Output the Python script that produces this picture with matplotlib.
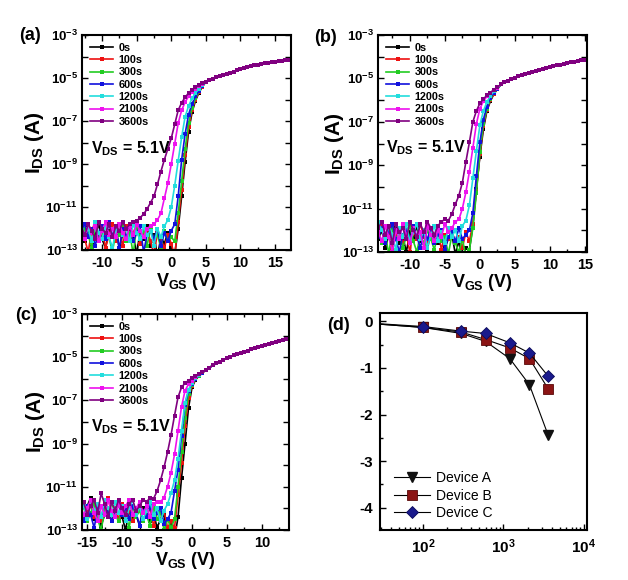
import numpy as np
import matplotlib
matplotlib.use('Agg')
import matplotlib.pyplot as plt
from matplotlib.ticker import (FixedLocator, MultipleLocator, FuncFormatter,
                               NullLocator, LogLocator, NullFormatter)

plt.rcParams['font.family'] = ['Liberation Sans', 'DejaVu Sans']
plt.rcParams['font.weight'] = 'bold'
plt.rcParams['mathtext.fontset'] = 'custom'
plt.rcParams['mathtext.rm'] = 'Liberation Sans'
plt.rcParams['mathtext.bf'] = 'Liberation Sans:bold'
plt.rcParams['mathtext.it'] = 'Liberation Sans:italic'
plt.rcParams['mathtext.default'] = 'bf'
plt.rcParams['axes.unicode_minus'] = False
plt.rcParams['axes.linewidth'] = 1.5

# ---------------- data ----------------
times = ['0s', '100s', '300s', '600s', '1200s', '2100s', '3600s']
colors = ['#000000', '#ee1111', '#22cc22', '#1111dd', '#22dddd', '#ee11ee', '#800080']

# panel (a): log10(I_DS); sub-threshold part VGS = -13 .. 4.5 (step 0.5), common on-state part VGS = 5 .. 17.5
vgs_a_sub = np.arange(-13.0, 4.75, 0.5)
vgs_a_on = np.arange(5.0, 17.75, 0.5)
a_on = [-5.17, -5.1, -5.03, -4.97, -4.91, -4.86, -4.8, -4.75, -4.7, -4.65, -4.58, -4.53, -4.49,
        -4.45, -4.41, -4.38, -4.35, -4.32, -4.29, -4.26, -4.24, -4.21, -4.19, -4.16, -4.14, -4.12]
a_0s = [-12.2, -12.6, -11.9, -13.1, -12.3, -11.8, -12.5, -12.9, -12.1, -12.4, -11.9, -13.0, -12.2, -12.6,
        -12.0, -12.3, -13.2, -12.1, -12.5, -11.9, -12.8, -12.3, -13.3, -12.4, -12.7, -12.2, -12.9,
        -13.2, -12.0, -10.5, -8.9, -7.5, -6.6, -6.05, -5.68, -5.4]
a_100s = [-11.9, -12.5, -13.1, -12.1, -11.7, -12.4, -12.0, -12.9, -12.3, -11.8, -12.6, -12.1, -12.8, -11.9,
          -12.4, -12.2, -11.8, -12.7, -12.3, -12.0, -12.6, -13.2, -12.2, -12.5, -12.9, -12.3, -12.7,
          -13.3, -11.7, -10.2, -8.6, -7.3, -6.5, -6.0, -5.65, -5.4]
a_300s = [-12.6, -12.0, -12.3, -12.9, -11.9, -12.5, -12.2, -11.7, -12.4, -13.1, -12.1, -12.3, -11.8, -12.6,
          -12.2, -13.2, -11.9, -12.4, -12.1, -12.8, -12.0, -12.5, -12.3, -12.9, -12.1, -12.6, -12.4,
          -12.6, -11.3, -9.8, -8.3, -7.1, -6.4, -5.95, -5.62, -5.38]
a_600s = [-12.1, -11.8, -12.4, -12.0, -12.8, -12.2, -11.9, -12.5, -11.7, -12.3, -12.1, -12.9, -12.0, -12.4,
          -11.8, -12.6, -12.2, -11.9, -13.1, -12.3, -12.1, -12.5, -12.0, -12.8, -12.2, -12.6, -12.1, -11.8,
          -10.5, -8.8, -7.6, -6.7, -6.2, -5.85, -5.6, -5.38]
a_1200s = [-11.8, -12.3, -12.0, -12.6, -11.7, -12.2, -12.5, -11.9, -12.4, -12.9, -12.1, -11.8, -12.3, -12.0,
           -12.6, -11.8, -12.2, -12.5, -11.9, -12.3, -12.1, -12.8, -12.0, -12.4, -11.9,
           -11.6, -11.0, -10.0, -8.85, -7.75, -6.8, -6.3, -5.95, -5.7, -5.5, -5.33]
a_2100s = [-12.0, -12.5, -11.8, -12.2, -11.9, -12.6, -12.1, -11.7, -12.3, -12.0, -12.4, -11.8, -12.2, -12.5,
           -11.9, -12.3, -11.8, -12.1, -12.4, -12.0, -11.9, -11.8, -11.6,
           -11.3, -10.6, -9.9, -9.0, -8.05, -7.1, -6.5, -6.12, -5.85, -5.65, -5.5, -5.37, -5.27]
a_3600s = [-11.9, -12.3, -11.8, -12.1, -12.5, -11.7, -12.0, -12.2, -11.8, -12.4, -11.9, -12.1, -11.7, -12.0,
           -11.8, -11.7,
           -11.65, -11.5, -11.33, -11.1, -10.8, -10.5, -9.95, -9.35, -8.8, -8.3, -7.8, -7.15, -6.5, -6.15,
           -5.9, -5.7, -5.55, -5.42, -5.32, -5.24]

# panel (b): sub part VGS = -14.5 .. 2.5, on part VGS = 3 .. 15
vgs_b_sub = np.arange(-14.5, 2.75, 0.5)
vgs_b_on = np.arange(3.0, 15.25, 0.5)
b_on = [-5.28, -5.18, -5.1, -5.03, -4.97, -4.91, -4.85, -4.8, -4.75, -4.7, -4.65, -4.6, -4.56, -4.52,
        -4.47, -4.43, -4.4, -4.36, -4.33, -4.29, -4.26, -4.23, -4.2, -4.17, -4.15]
b_0s = [-12.4, -12.0, -12.8, -12.2, -12.5, -11.9, -12.6, -12.3, -13.0, -12.1, -12.4, -11.8, -12.5, -12.2,
        -12.9, -12.0, -12.3, -12.6, -12.1, -12.8, -12.4, -12.2, -13.1, -12.5, -13.3, -12.8,
        -12.9, -11.8, -10.1, -8.6, -7.35, -6.5, -6.05, -5.72, -5.5]
b_100s = [-12.2, -11.8, -12.5, -12.1, -12.8, -12.3, -11.9, -12.6, -12.2, -13.0, -12.0, -12.4, -11.7, -12.3,
          -12.6, -12.1, -12.5, -11.9, -12.9, -12.2, -12.4, -12.0, -12.6, -12.3, -12.8, -12.1, -12.5,
          -11.7, -10.2, -8.5, -7.2, -6.45, -6.0, -5.7, -5.49]
b_300s = [-12.0, -12.6, -12.2, -13.1, -11.9, -12.4, -12.1, -12.8, -12.3, -11.8, -12.5, -13.0, -12.2, -12.6,
          -12.0, -12.4, -12.9, -12.1, -12.5, -12.3, -13.1, -12.2, -12.6, -13.0, -12.4, -13.2,
          -12.9, -11.9, -10.3, -8.4, -7.1, -6.4, -5.95, -5.68, -5.48]
b_600s = [-12.3, -11.9, -12.6, -12.1, -11.7, -12.4, -13.0, -12.2, -12.0, -12.5, -11.8, -12.3, -12.8, -12.1,
          -12.4, -11.9, -12.6, -12.2, -12.0, -12.9, -12.3, -12.1, -12.5, -11.9, -12.4, -12.2,
          -12.0, -11.2, -9.5, -7.95, -6.9, -6.3, -5.9, -5.65, -5.47]
b_1200s = [-11.6, -12.0, -12.4, -11.8, -12.2, -12.9, -11.9, -12.3, -11.7, -12.5, -12.1, -11.7, -12.4, -12.0,
           -12.8, -12.2, -11.8, -12.5, -12.1, -12.6, -11.9, -12.3, -12.0, -12.5, -11.8,
           -11.55, -10.85, -9.6, -8.35, -7.15, -6.5, -6.1, -5.8, -5.6, -5.45]
b_2100s = [-12.1, -12.5, -11.8, -12.3, -13.0, -12.0, -12.4, -11.7, -12.2, -12.6, -11.9, -12.3, -12.1, -12.8,
           -11.8, -12.2, -12.5, -12.0, -12.3, -11.7, -12.1, -11.9, -11.6,
           -11.5, -11.0, -10.25, -9.3, -8.2, -7.1, -6.4, -6.05, -5.83, -5.68, -5.54, -5.42]
b_3600s = [-11.9, -11.6, -12.2, -11.8, -12.6, -11.7, -12.1, -11.9, -12.4, -11.6, -12.0, -12.3, -11.7, -12.1,
           -11.6, -11.9, -12.2, -11.8, -11.6, -11.5,
           -11.55, -11.25, -10.8, -10.4, -9.8, -8.85, -7.95, -7.0, -6.5, -6.15, -5.95, -5.78, -5.65, -5.52, -5.4]

# panel (c): sub part VGS = -16 .. 1.5, on part VGS = 2 .. 14.5
vgs_c_sub = np.arange(-16.0, 1.75, 0.5)
vgs_c_on = np.arange(2.0, 14.75, 0.5)
c_on = [-5.58, -5.48, -5.38, -5.28, -5.2, -5.12, -5.05, -4.98, -4.92, -4.86, -4.8, -4.74, -4.69, -4.64,
        -4.59, -4.55, -4.5, -4.45, -4.4, -4.35, -4.3, -4.25, -4.2, -4.15, -4.12, -4.09]
c_0s = [-12.2, -12.6, -11.9, -11.5, -12.5, -12.1, -12.8, -12.3, -12.0, -12.6, -12.2, -11.8, -12.4, -13.0,
        -12.1, -12.5, -12.3, -12.8, -12.0, -12.4, -12.6, -12.2, -12.9, -12.5, -12.3, -13.2, -12.7,
        -13.4, -12.4, -10.6, -9.0, -7.35, -6.4, -6.05, -5.87, -5.73]
c_100s = [-12.0, -12.5, -12.1, -11.8, -12.4, -12.2, -12.6, -11.9, -11.5, -12.3, -12.0, -12.5, -11.8, -12.4,
          -12.1, -12.6, -12.2, -11.9, -12.5, -12.3, -12.0, -12.8, -12.2, -12.5, -12.1, -12.9, -12.6,
          -12.9, -11.4, -9.9, -8.2, -6.9, -6.32, -6.03, -5.86, -5.72]
c_300s = [-12.3, -11.9, -12.6, -12.2, -11.8, -12.5, -13.0, -12.1, -12.4, -11.7, -12.3, -12.6, -12.0, -12.2,
          -12.9, -11.9, -12.4, -12.1, -12.6, -12.3, -12.8, -12.0, -12.5, -12.2, -13.0, -12.5, -12.9,
          -12.5, -11.0, -9.4, -7.8, -6.7, -6.28, -6.02, -5.85, -5.72]
c_600s = [-12.1, -12.6, -11.9, -12.3, -12.9, -12.0, -12.4, -11.8, -12.2, -12.6, -12.1, -11.7, -12.3, -12.0,
          -12.5, -11.9, -12.2, -12.8, -12.1, -12.4, -11.9, -12.5, -12.2, -12.0, -12.7, -12.5,
          -12.2, -11.2, -10.2, -8.65, -7.2, -6.55, -6.22, -6.0, -5.84, -5.71]
c_1200s = [-11.5, -11.9, -12.5, -11.7, -12.1, -11.8, -12.4, -11.6, -12.0, -12.3, -11.7, -12.2, -11.9, -12.6,
           -12.0, -11.6, -12.3, -11.9, -12.5, -12.1, -11.7, -12.3, -12.0, -12.6, -12.1, -11.8,
           -11.3, -10.7, -9.7, -8.4, -7.1, -6.5, -6.2, -5.98, -5.82, -5.7]
c_2100s = [-11.8, -12.3, -12.0, -11.6, -12.2, -12.6, -11.9, -12.3, -11.6, -12.1, -12.4, -11.8, -12.2, -11.9,
           -11.6, -12.3, -12.0, -11.7, -12.2, -11.9, -12.4, -11.8, -11.7, -11.7,
           -11.5, -11.0, -10.35, -9.5, -8.4, -7.3, -6.55, -6.25, -6.08, -5.93, -5.8, -5.69]
c_3600s = [-12.0, -11.7, -12.3, -11.9, -11.6, -12.2, -11.3, -11.8, -12.4, -11.7, -12.1, -11.6, -12.0, -12.3,
           -11.8, -11.6, -12.1, -11.9, -11.6, -11.7, -11.5,
           -11.55, -11.2, -10.7, -10.1, -9.4, -8.6, -7.7, -6.85, -6.4, -6.2, -6.08, -5.98, -5.88, -5.78, -5.68]

# panel (d): threshold voltage shift vs stress time
stress_time = [10, 100, 300, 600, 1200, 2100, 3600]
shift_A = [0.0, -0.13, -0.26, -0.43, -0.80, -1.36, -2.45]
shift_B = [0.0, -0.13, -0.23, -0.39, -0.57, -0.80, -1.45]
shift_C = [0.0, -0.11, -0.21, -0.26, -0.46, -0.68, -1.18]
devices = ['Device A', 'Device B', 'Device C']

# ---------------- figure ----------------
W, H = 628, 580
fig = plt.figure(figsize=(W / 100, H / 100), dpi=100)


def add_ax(l, t, r, b):
    return fig.add_axes([l / W, 1 - b / H, (r - l) / W, (b - t) / H])


def log_fmt(v, pos):
    e = int(round(np.log10(v)))
    return r'$10^{%d}$' % e if e % 2 else ''


def transfer(ax, vsub, von, curves, on, xlim, vds_xy, ylab_x, xlab_y):
    for lab, col, sub in zip(times, colors, curves):
        if len(sub) != len(vsub):
            raise ValueError('length mismatch %s %d %d' % (lab, len(sub), len(vsub)))
        v = np.concatenate([vsub, von])
        y = np.concatenate([np.array(sub), np.array(on)])
        ax.plot(v, 10.0 ** y, '-s', color=col, lw=1.2, ms=3.3, mew=0, label=lab)
    ax.set_yscale('log')
    ax.set_ylim(1e-13, 1e-3)
    ax.set_xlim(*xlim)
    ax.yaxis.set_major_locator(FixedLocator(10.0 ** np.arange(-13, -2)))
    ax.yaxis.set_minor_locator(NullLocator())
    ax.yaxis.set_major_formatter(FuncFormatter(log_fmt))
    ax.xaxis.set_major_locator(MultipleLocator(5))
    ax.xaxis.set_minor_locator(MultipleLocator(2.5))
    ax.tick_params(which='both', direction='in', top=True, right=True, width=1.0)
    ax.tick_params(which='major', length=4)
    ax.tick_params(axis='x', which='major', pad=4, labelsize=10.5)
    ax.tick_params(axis='y', which='major', pad=3, labelsize=9.5)
    ax.tick_params(which='minor', length=2.5)
    leg = ax.legend(loc='upper left', frameon=False, fontsize=7.8, handlelength=2.2,
                    borderaxespad=0.3, labelspacing=0.22, handletextpad=0.5,
                    bbox_to_anchor=(0.0, 1.0))
    for t in leg.get_texts():
        t.set_fontweight('bold')
    ax.text(vds_xy[0], vds_xy[1], r'$V_{DS}$ = 5.1V', transform=ax.transAxes,
            fontsize=11.5, fontweight='bold', va='center', ha='left')
    ax.set_ylabel(r'$I_{DS}$ (A)', fontsize=15, fontweight='bold', va='center')
    ax.yaxis.set_label_coords(ylab_x, 0.5)
    ax.set_xlabel(r'$V_{GS}$ (V)', fontsize=13, fontweight='bold', va='center')
    ax.xaxis.set_label_coords(0.5, xlab_y)


ax_a = add_ax(82, 35, 291, 250)
transfer(ax_a, vgs_a_sub, vgs_a_on, [a_0s, a_100s, a_300s, a_600s, a_1200s, a_2100s, a_3600s],
         a_on, (-12.9, 17.3), (0.045, 0.47), -0.225, -0.145)

ax_b = add_ax(378, 35, 587, 252)
transfer(ax_b, vgs_b_sub, vgs_b_on, [b_0s, b_100s, b_300s, b_600s, b_1200s, b_2100s, b_3600s],
         b_on, (-14.55, 15.3), (0.04, 0.48), -0.206, -0.14)

ax_c = add_ax(82, 314, 289, 530)
transfer(ax_c, vgs_c_sub, vgs_c_on, [c_0s, c_100s, c_300s, c_600s, c_1200s, c_2100s, c_3600s],
         c_on, (-15.74, 13.88), (0.045, 0.478), -0.227, -0.14)

# panel (d)
ax_d = add_ax(380, 313, 587, 530)
ax_d.plot(stress_time, shift_A, '-v', color='black', lw=0.8, ms=7.5, mfc='#111111', mec='#111111',
          label=devices[0])
ax_d.plot(stress_time, shift_B, '-s', color='black', lw=0.8, ms=6.5, mfc='#8b1414', mec='#5a0a0a',
          mew=0.6, label=devices[1])
ax_d.plot(stress_time, shift_C, '-D', color='black', lw=0.8, ms=6.5, mfc='#1a1a8c', mec='#0a0a5a',
          mew=0.6, label=devices[2])
ax_d.set_xscale('log')
ax_d.set_xlim(29.3, 1.09e4)
ax_d.set_ylim(-4.48, 0.18)
ax_d.yaxis.set_major_locator(MultipleLocator(1))
ax_d.yaxis.set_minor_locator(MultipleLocator(0.5))
ax_d.yaxis.set_major_formatter(FuncFormatter(lambda v, p: '%d' % round(v)))
ax_d.xaxis.set_major_locator(LogLocator(base=10, numticks=10))
ax_d.xaxis.set_minor_locator(LogLocator(base=10, subs=np.arange(2, 10), numticks=10))
ax_d.xaxis.set_minor_formatter(NullFormatter())
ax_d.xaxis.set_major_formatter(FuncFormatter(lambda v, p: r'$10^{%d}$' % int(round(np.log10(v)))))
ax_d.tick_params(which='both', direction='in', width=1.0)
ax_d.tick_params(which='major', length=4, labelsize=11, pad=5)
ax_d.tick_params(which='minor', length=2.5)
legd = ax_d.legend(loc='lower left', frameon=False, fontsize=10, handlelength=2.6,
                   borderaxespad=0.3, labelspacing=0.25, handletextpad=0.4,
                   bbox_to_anchor=(0.02, 0.0))
for t in legd.get_texts():
    t.set_fontweight('normal')

# panel letters
for lab, x, y in [('(a)', 30, 36), ('(b)', 325, 37), ('(c)', 26, 316), ('(d)', 338, 325)]:
    fig.text(x / W, 1 - y / H, lab, fontsize=13, fontweight='bold', ha='center', va='center')

fig.savefig('out.png', dpi=100)
